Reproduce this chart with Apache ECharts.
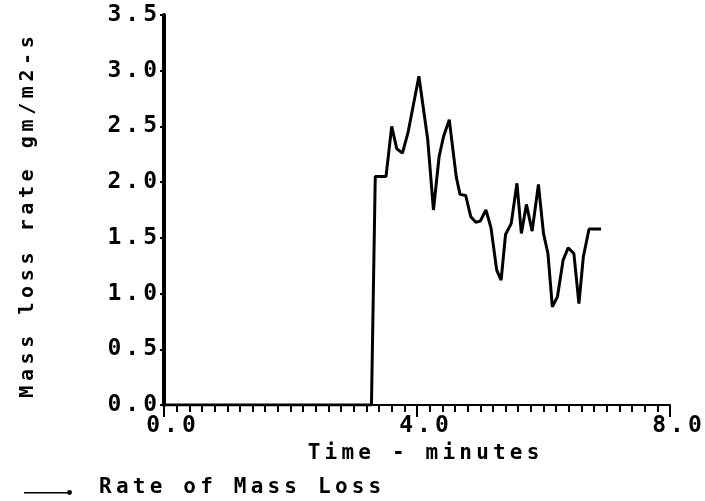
<!DOCTYPE html>
<html>
<head>
<meta charset="utf-8">
<script src="https://cdn.jsdelivr.net/npm/echarts@6/dist/echarts.min.js"></script>
<style>html,body{margin:0;padding:0;background:#fff;}#c{width:705px;height:501px;}</style>
</head>
<body>
<div id="c"></div>
<script>
const timeMin = [0, 3.28, 3.34, 3.51, 3.60, 3.68, 3.77, 3.86, 4.03, 4.17, 4.26, 4.35, 4.42, 4.51, 4.62, 4.68, 4.77, 4.85, 4.93, 5.00, 5.09, 5.17, 5.26, 5.33, 5.40, 5.49, 5.58, 5.65, 5.73, 5.82, 5.92, 6.00, 6.07, 6.14, 6.22, 6.31, 6.39, 6.48, 6.56, 6.63, 6.72, 6.91];
const massLossRate = [0, 0, 2.05, 2.05, 2.50, 2.30, 2.26, 2.45, 2.95, 2.38, 1.75, 2.23, 2.41, 2.56, 2.05, 1.89, 1.88, 1.69, 1.64, 1.65, 1.75, 1.59, 1.21, 1.12, 1.53, 1.63, 1.99, 1.54, 1.80, 1.56, 1.98, 1.54, 1.36, 0.88, 0.97, 1.30, 1.41, 1.36, 0.91, 1.33, 1.58, 1.58];
const seriesName = 'Rate of Mass Loss';
const xTitle = 'Time - minutes';
const yTitle = 'Mass loss rate gm/m2-s';

const FONT = "'DejaVu Sans Mono'";
// spread characters apart to mimic the wide plotter font
const spaced = s => s.split('').map(c => '{a|' + c + '}').join('');
const richA = (size, pad) => ({a: {fontFamily: FONT, fontWeight: 'bold', fontSize: size, color: '#000', padding: [0, pad, 0, pad]}});

const chart = echarts.init(document.getElementById('c'), null, {renderer: 'canvas'});
chart.setOption({
  animation: false,
  backgroundColor: '#fff',
  grid: {left: 164, right: 35, top: 15, bottom: 96},
  xAxis: {
    type: 'value', min: 0, max: 8, interval: 4,
    name: spaced(xTitle), nameLocation: 'middle', nameGap: 32,
    nameTextStyle: {fontFamily: FONT, fontWeight: 'bold', fontSize: 21, color: '#000', padding: [0, 0, 0, 13], rich: richA(21, 2.1)},
    axisLine: {show: true, onZero: false, lineStyle: {color: '#000', width: 2}},
    axisTick: {show: true, inside: false, length: 12, lineStyle: {color: '#000', width: 2}},
    minorTick: {show: true, splitNumber: 20, length: 7, lineStyle: {color: '#000', width: 2}},
    splitLine: {show: false},
    axisLabel: {color: '#000', margin: 10, padding: [0, 0, 0, 14],
      formatter: v => spaced(v.toFixed(1)), rich: richA(23, 2)}
  },
  yAxis: {
    type: 'value', min: 0, max: 3.5, interval: 0.5,
    name: spaced(yTitle), nameLocation: 'middle', nameGap: 126, nameRotate: 90,
    nameTextStyle: {fontFamily: FONT, fontWeight: 'bold', fontSize: 20, color: '#000', padding: [0, 14, 0, 0], rich: richA(20, 2.3)},
    axisLine: {show: true, lineStyle: {color: '#000', width: 4}},
    axisTick: {show: true, inside: false, length: 4, lineStyle: {color: '#000', width: 2}},
    splitLine: {show: false},
    axisLabel: {color: '#000', margin: 5,
      formatter: v => spaced(v.toFixed(1)), rich: richA(23, 2)}
  },
  legend: {
    show: true, left: 19, top: 472, itemWidth: 48, itemHeight: 7, itemGap: 10,
    data: [{name: seriesName, icon: 'path://M0,3.5h44v1.5H0z M46,1.5a2.5,2.5 0 1 1 0,5a2.5,2.5 0 1 1 0,-5z'}],
    formatter: name => spaced(name),
    textStyle: {fontFamily: FONT, fontWeight: 'bold', fontSize: 21, color: '#000', padding: [0, 0, 10, 20], rich: richA(21, 2.1)}
  },
  series: [{
    name: seriesName, type: 'line', showSymbol: false, symbol: 'none',
    color: '#000',
    lineStyle: {color: '#000', width: 3},
    data: timeMin.map((t, i) => [t, massLossRate[i]])
  }]
});
</script>
</body>
</html>
